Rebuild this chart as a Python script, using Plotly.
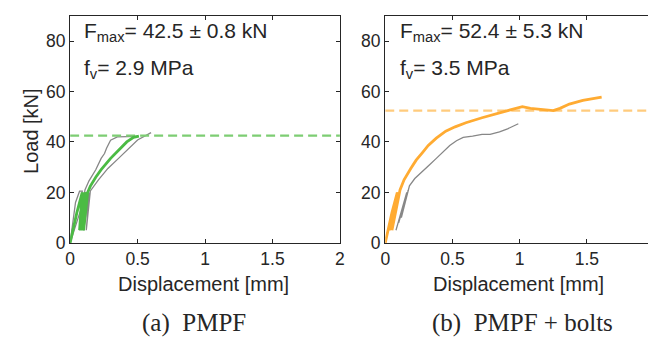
import plotly.graph_objects as go

# ---- data ----
# Panel (a) PMPF
a_mean_x = [0, 0.05, 0.09, 0.07, 0.11, 0.09, 0.12, 0.10, 0.13, 0.15, 0.19, 0.23, 0.30, 0.36, 0.42, 0.47, 0.51]
a_mean_y = [0, 12, 20, 5, 20, 5, 20, 5, 20, 22.5, 26, 29, 33.5, 36.7, 40, 41.8, 42.3]
a_s1_x = [0, 0.04, 0.07, 0.09, 0.07, 0.11, 0.14, 0.19, 0.23, 0.255, 0.27, 0.30, 0.35, 0.45, 0.50]
a_s1_y = [0, 16, 20.5, 20.5, 5, 21, 24.6, 29, 33.5, 35.4, 37.5, 40.7, 42, 42, 42.2]
a_s2_x = [0, 0.03, 0.06, 0.09, 0.12, 0.10, 0.14, 0.12, 0.15, 0.21, 0.28, 0.355, 0.43, 0.50, 0.60]
a_s2_y = [0, 5, 10, 15, 20, 5, 20, 5, 20.6, 25, 29.5, 33.3, 37, 40.8, 43.7]
a_fmax = 42.5

# Panel (b) PMPF + bolts
b_mean_x = [0, 0.05, 0.09, 0.03, 0.10, 0.05, 0.11, 0.14, 0.19, 0.23, 0.28, 0.32, 0.38, 0.45, 0.52, 0.60,
            0.72, 0.84, 0.94, 1.02, 1.08, 1.18, 1.25, 1.30, 1.37, 1.47, 1.61]
b_mean_y = [0, 12, 20, 5, 20, 5, 21, 25, 29.5, 32.8, 36, 38.6, 41.5, 44.3, 46, 47.6,
            49.6, 51.4, 53, 54, 53.3, 52.7, 52.4, 53.3, 55, 56.5, 57.8]
b_s1_x = [0.08, 0.16, 0.10, 0.17, 0.12, 0.18, 0.22, 0.28, 0.33, 0.38, 0.43, 0.48, 0.53, 0.58,
          0.65, 0.72, 0.78, 0.85, 0.91, 0.95, 0.99]
b_s1_y = [5, 20, 8, 20.6, 10, 22.6, 25.5, 28.3, 31, 33.5, 36, 38.6, 40.5, 41.8,
          42.3, 43, 43, 44, 45.2, 46.3, 47.2]
b_fmax = 52.4

x_ticks = [0, 0.5, 1, 1.5, 2]
x_ticklabels = ["0", "0.5", "1", "1.5", "2"]
y_ticks = [0, 20, 40, 60, 80]

W, H = 656, 341
GRAY = "rgb(135,135,135)"
GREEN = "rgb(75,187,68)"
GREEN_L = "rgb(125,205,115)"
ORANGE = "rgb(255,171,50)"
ORANGE_L = "rgb(255,203,125)"
AX = "#262626"
FONT = "Arial, Liberation Sans, Helvetica, sans-serif"

fig = go.Figure()

def add(x, y, color, width, xa, ya, dash=None):
    fig.add_trace(go.Scatter(x=x, y=y, mode="lines", xaxis=xa, yaxis=ya,
                             line=dict(color=color, width=width, dash=dash),
                             showlegend=False, hoverinfo="skip"))

add(a_s1_x, a_s1_y, GRAY, 1.3, "x", "y")
add(a_s2_x, a_s2_y, GRAY, 1.3, "x", "y")
add([0, 2], [a_fmax, a_fmax], GREEN_L, 2.2, "x", "y", dash="9px,5px")
add(a_mean_x, a_mean_y, GREEN, 2.8, "x", "y")

add(b_s1_x, b_s1_y, GRAY, 1.3, "x2", "y2")
add([0, 2], [b_fmax, b_fmax], ORANGE_L, 2.2, "x2", "y2", dash="9px,5px")
add(b_mean_x, b_mean_y, ORANGE, 2.8, "x2", "y2")

def px(v):
    return v / W

def py(v):
    return 1 - v / H

xl = [58, 332]
xr = [378, 651]
ydom = [py(242), py(8)]

common_x = dict(range=[0, 2], tickvals=x_ticks, ticktext=x_ticklabels, showline=True,
                linecolor=AX, linewidth=1.4, mirror="ticks", ticks="inside", ticklen=4,
                tickwidth=1.2, tickcolor=AX, showgrid=False, zeroline=False,
                ticklabeloverflow="allow",
                tickfont=dict(family=FONT, size=17.5, color=AX), fixedrange=True)
common_y = dict(range=[0, 90], tickvals=y_ticks, showline=True,
                linecolor=AX, linewidth=1.4, mirror="ticks", ticks="inside", ticklen=4,
                tickwidth=1.2, tickcolor=AX, showgrid=False, zeroline=False,
                tickfont=dict(family=FONT, size=17.5, color=AX), fixedrange=True)

fig.update_layout(
    width=W, height=H, autosize=False,
    margin=dict(l=0, r=0, t=0, b=0),
    paper_bgcolor="white", plot_bgcolor="white",
    xaxis=dict(domain=[px(xl[0]), px(xl[1])], anchor="y", **common_x),
    yaxis=dict(domain=ydom, anchor="x", **common_y),
    xaxis2=dict(domain=[px(xr[0]), px(xr[1])], anchor="y2", **common_x),
    yaxis2=dict(domain=ydom, anchor="x2", **common_y),
)

ann = []
def text(x, y, s, size, family=FONT, angle=0, xanchor="center"):
    ann.append(dict(x=px(x), y=py(y), xref="paper", yref="paper", text=s, showarrow=False,
                    xanchor=xanchor, yanchor="middle", textangle=angle,
                    font=dict(family=family, size=size, color=AX)))

text(19, 127, "Load [kN]", 20, angle=-90)
text(193, 284, "Displacement [mm]", 20)
text(513, 284, "Displacement [mm]", 20)

text(70, 25, "F<sub>max</sub>= 42.5 ± 0.8 kN", 21, xanchor="left")
text(70, 63, "f<sub>v</sub>= 2.9 MPa", 21, xanchor="left")
text(391, 25, "F<sub>max</sub>= 52.4 ± 5.3 kN", 21, xanchor="left")
text(391, 63, "f<sub>v</sub>= 3.5 MPa", 21, xanchor="left")

SERIF = "Liberation Serif, Times New Roman, serif"
text(184, 325, "(a)\u00a0\u00a0PMPF", 25, family=SERIF)
text(517, 325, "(b)\u00a0\u00a0PMPF + bolts", 25, family=SERIF)

fig.update_layout(annotations=ann)
fig.write_html("out.html")
